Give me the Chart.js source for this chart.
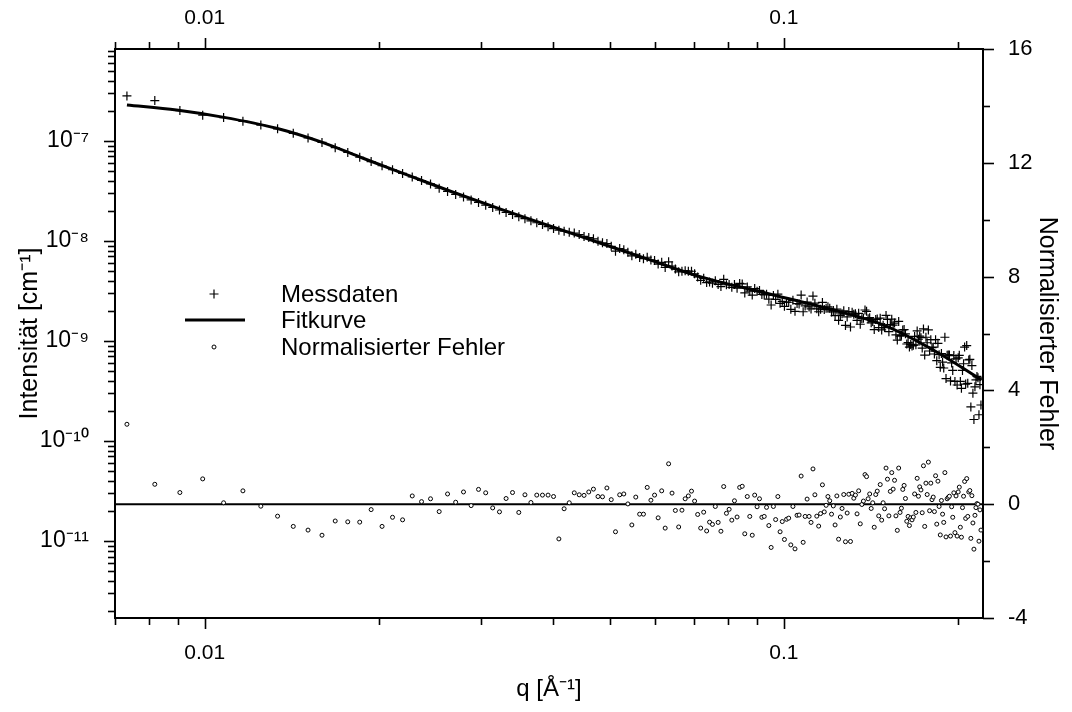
<!DOCTYPE html>
<html>
<head>
<meta charset="utf-8">
<script src="https://cdn.jsdelivr.net/npm/chart.js@4.4.1/dist/chart.umd.min.js"></script>
<style>
  html, body { margin: 0; padding: 0; background: #fff; }
  #wrap { position: relative; width: 1072px; height: 712px; }
</style>
</head>
<body>
<div id="wrap"><canvas id="chart" width="1072" height="712"></canvas></div>
<script>
// ---- data ----
// scattering vector q [1/Angstrom], one value per measured point
const q = [
  0.00734, 0.00820, 0.00906, 0.00992, 0.01078, 0.01164, 0.01250, 0.01336, 0.01422, 0.01508,
  0.01594, 0.01680, 0.01766, 0.01852, 0.01938, 0.02024, 0.02110, 0.02196, 0.02282, 0.02368,
  0.02454, 0.02540, 0.02626, 0.02712, 0.02798, 0.02884, 0.02970, 0.03056, 0.03142, 0.03228,
  0.03314, 0.03400, 0.03486, 0.03572, 0.03658, 0.03744, 0.03830, 0.03916, 0.04002, 0.04088,
  0.04174, 0.04260, 0.04346, 0.04432, 0.04518, 0.04604, 0.04690, 0.04776, 0.04862, 0.04948,
  0.05034, 0.05120, 0.05206, 0.05292, 0.05378, 0.05464, 0.05550, 0.05636, 0.05722, 0.05808,
  0.05894, 0.05980, 0.06066, 0.06152, 0.06238, 0.06324, 0.06410, 0.06496, 0.06582, 0.06668,
  0.06754, 0.06840, 0.06926, 0.07012, 0.07098, 0.07184, 0.07270, 0.07356, 0.07442, 0.07528,
  0.07614, 0.07700, 0.07786, 0.07872, 0.07958, 0.08044, 0.08130, 0.08216, 0.08302, 0.08388,
  0.08474, 0.08560, 0.08646, 0.08732, 0.08818, 0.08904, 0.08990, 0.09076, 0.09162, 0.09248,
  0.09334, 0.09420, 0.09506, 0.09592, 0.09678, 0.09764, 0.09850, 0.09936, 0.10022, 0.10108,
  0.10194, 0.10280, 0.10366, 0.10452, 0.10538, 0.10624, 0.10710, 0.10796, 0.10882, 0.10968,
  0.11054, 0.11140, 0.11226, 0.11312, 0.11398, 0.11484, 0.11570, 0.11656, 0.11742, 0.11828,
  0.11914, 0.12000, 0.12086, 0.12172, 0.12258, 0.12344, 0.12430, 0.12516, 0.12602, 0.12688,
  0.12774, 0.12860, 0.12946, 0.13032, 0.13118, 0.13204, 0.13290, 0.13376, 0.13462, 0.13548,
  0.13634, 0.13720, 0.13806, 0.13892, 0.13978, 0.14064, 0.14150, 0.14236, 0.14322, 0.14408,
  0.14494, 0.14580, 0.14666, 0.14752, 0.14838, 0.14924, 0.15010, 0.15096, 0.15182, 0.15268,
  0.15354, 0.15440, 0.15526, 0.15612, 0.15698, 0.15784, 0.15870, 0.15956, 0.16042, 0.16128,
  0.16214, 0.16300, 0.16386, 0.16472, 0.16558, 0.16644, 0.16730, 0.16816, 0.16902, 0.16988,
  0.17074, 0.17160, 0.17246, 0.17332, 0.17418, 0.17504, 0.17590, 0.17676, 0.17762, 0.17848,
  0.17934, 0.18020, 0.18106, 0.18192, 0.18278, 0.18364, 0.18450, 0.18536, 0.18622, 0.18708,
  0.18794, 0.18880, 0.18966, 0.19052, 0.19138, 0.19224, 0.19310, 0.19396, 0.19482, 0.19568,
  0.19654, 0.19740, 0.19826, 0.19912, 0.19998, 0.20084, 0.20170, 0.20256, 0.20342, 0.20428,
  0.20514, 0.20600, 0.20686, 0.20772, 0.20858, 0.20944, 0.21030, 0.21116, 0.21202, 0.21288,
  0.21374, 0.21460, 0.21546, 0.21632, 0.21718, 0.21804, 0.21890
];

// measured intensity [1/cm]
const intensity = [
  2.82e-7, 2.53e-7, 2.01e-7, 1.81e-7, 1.71e-7, 1.57e-7, 1.44e-7, 1.32e-7, 1.19e-7, 1.07e-7,
  9.66e-8, 8.57e-8, 7.66e-8, 6.87e-8, 6.22e-8, 5.65e-8, 5.15e-8, 4.73e-8, 4.36e-8, 4.02e-8,
  3.72e-8, 3.37e-8, 3.13e-8, 2.92e-8, 2.75e-8, 2.57e-8, 2.43e-8, 2.28e-8, 2.16e-8, 2.04e-8,
  1.93e-8, 1.84e-8, 1.75e-8, 1.67e-8, 1.59e-8, 1.52e-8, 1.46e-8, 1.39e-8, 1.33e-8, 1.28e-8,
  1.25e-8, 1.22e-8, 1.20e-8, 1.16e-8, 1.11e-8, 1.08e-8, 1.05e-8, 9.93e-9, 9.57e-9, 9.42e-9,
  8.83e-9, 7.91e-9, 8.39e-9, 8.15e-9, 7.71e-9, 7.10e-9, 7.36e-9, 6.85e-9, 6.65e-9, 6.87e-9,
  6.46e-9, 6.38e-9, 5.87e-9, 6.11e-9, 5.43e-9, 6.19e-9, 5.62e-9, 5.24e-9, 4.91e-9, 4.98e-9,
  5.04e-9, 4.99e-9, 4.98e-9, 4.70e-9, 4.36e-9, 4.04e-9, 4.23e-9, 3.84e-9, 3.89e-9, 3.78e-9,
  3.99e-9, 3.68e-9, 3.50e-9, 4.13e-9, 3.65e-9, 3.66e-9, 3.44e-9, 3.66e-9, 3.37e-9, 3.76e-9,
  3.72e-9, 3.02e-9, 3.47e-9, 3.15e-9, 2.88e-9, 3.34e-9, 3.14e-9, 3.20e-9, 2.92e-9, 2.89e-9,
  2.94e-9, 2.62e-9, 2.29e-9, 2.85e-9, 2.61e-9, 2.94e-9, 2.38e-9, 2.49e-9, 2.22e-9, 2.45e-9,
  2.44e-9, 2.07e-9, 2.55e-9, 1.98e-9, 2.37e-9, 2.34e-9, 2.88e-9, 1.96e-9, 2.24e-9, 2.45e-9,
  2.19e-9, 2.09e-9, 2.81e-9, 2.39e-9, 2.10e-9, 1.96e-9, 2.08e-9, 2.43e-9, 2.06e-9, 2.12e-9,
  2.20e-9, 2.12e-9, 1.95e-9, 2.02e-9, 1.79e-9, 2.08e-9, 1.61e-9, 1.80e-9, 1.87e-9, 2.00e-9,
  1.43e-9, 1.74e-9, 1.97e-9, 1.38e-9, 1.94e-9, 1.85e-9, 1.87e-9, 1.61e-9, 1.89e-9, 1.47e-9,
  1.67e-9, 1.69e-9, 2.04e-9, 1.98e-9, 1.67e-9, 1.71e-9, 1.52e-9, 1.57e-9, 1.30e-9, 1.64e-9,
  1.66e-9, 1.36e-9, 1.69e-9, 1.29e-9, 1.44e-9, 1.36e-9, 1.80e-9, 1.64e-9, 1.24e-9, 1.46e-9,
  1.65e-9, 1.44e-9, 1.51e-9, 1.15e-9, 1.02e-9, 1.57e-9, 1.12e-9, 1.14e-9, 1.29e-9, 1.30e-9,
  1.18e-9, 9.33e-10, 9.64e-10, 8.69e-10, 9.23e-10, 8.93e-10, 9.04e-10, 1.11e-9, 9.16e-10, 1.26e-9,
  1.04e-9, 1.12e-9, 1.08e-9, 8.49e-10, 1.32e-9, 7.23e-10, 1.09e-9, 9.60e-10, 1.29e-9, 7.94e-10,
  1.03e-9, 8.59e-10, 8.67e-10, 7.41e-10, 1.03e-9, 6.35e-10, 9.48e-10, 7.29e-10, 5.45e-10, 7.50e-10,
  6.15e-10, 5.37e-10, 1.09e-9, 4.21e-10, 7.21e-10, 7.24e-10, 7.26e-10, 3.99e-10, 6.03e-10, 5.08e-10,
  7.14e-10, 3.94e-10, 6.62e-10, 3.63e-10, 6.79e-10, 7.18e-10, 3.94e-10, 3.36e-10, 5.08e-10, 5.92e-10,
  8.69e-10, 3.71e-10, 8.99e-10, 3.77e-10, 6.46e-10, 6.56e-10, 2.19e-10, 5.68e-10, 3.01e-10, 1.64e-10,
  3.48e-10, 4.08e-10, 4.42e-10, 4.29e-10, 1.83e-10, 3.66e-10, 2.29e-10
];

// normalised residual (data - fit) / sigma
const normError = [
  2.81, 0.70, 0.41, 0.89, 0.05, 0.47, -0.07, -0.42, -0.78, -0.91,
  -1.09, -0.59, -0.62, -0.63, -0.19, -0.78, -0.46, -0.55, 0.29, 0.09,
  0.19, -0.26, 0.36, 0.07, 0.43, -0.05, 0.52, 0.40, -0.13, -0.27,
  0.20, 0.41, -0.29, 0.33, 0.06, 0.32, 0.32, 0.32, 0.27, -1.22,
  -0.16, 0.05, 0.40, 0.33, 0.31, 0.43, 0.53, 0.27, 0.26, 0.57,
  0.16, -0.97, 0.33, 0.36, 0.01, -0.73, 0.25, -0.35, -0.35, 0.59,
  0.14, 0.32, -0.48, 0.47, -0.84, 1.42, 0.39, -0.22, -0.80, -0.21,
  0.19, 0.29, 0.46, 0.11, -0.36, -0.84, -0.28, -0.94, -0.63, -0.71,
  -0.08, -0.64, -0.95, 0.62, -0.32, -0.18, -0.56, 0.12, -0.45, 0.59,
  0.63, -1.04, 0.27, -0.43, -1.09, 0.32, -0.09, 0.19, -0.46, -0.43,
  -0.11, -0.75, -1.52, -0.08, -0.54, 0.27, -0.97, -0.61, -1.24, -0.53,
  -0.49, -1.43, -0.08, -1.57, -0.39, -0.38, 0.99, -1.34, -0.43, 0.18,
  -0.43, -0.64, 1.24, 0.33, -0.42, -0.77, -0.33, 0.68, -0.27, -0.04,
  0.27, 0.12, -0.35, -0.06, -0.73, 0.29, -1.23, -0.45, -0.15, 0.34,
  -1.32, -0.31, 0.35, -1.31, 0.38, 0.21, 0.32, -0.34, 0.47, -0.69,
  -0.01, 0.11, 1.04, 0.97, 0.19, 0.36, -0.15, 0.05, -0.81, 0.34,
  0.46, -0.41, 0.69, -0.56, 0.05, -0.16, 1.27, 0.88, -0.41, 0.45,
  1.11, 0.53, 0.84, -0.41, -0.92, 1.27, -0.29, -0.14, 0.52, 0.66,
  0.20, -0.60, -0.43, -0.75, -0.48, -0.55, -0.45, 0.36, -0.29, 0.91,
  0.28, 0.61, 0.50, -0.30, 1.35, -0.78, 0.74, 0.34, 1.48, -0.23,
  0.74, 0.16, 0.25, -0.26, 1.00, -0.70, 0.81, -0.08, -1.08, 0.13,
  -0.35, -0.64, 1.11, -1.15, 0.19, 0.24, 0.28, -1.12, -0.09, -0.46,
  0.40, -1.00, 0.29, -1.12, 0.43, 0.60, -0.81, -1.16, -0.12, 0.28,
  0.80, -0.50, 0.90, -0.43, 0.43, 0.48, -1.20, 0.30, -0.66, -1.58,
  -0.39, -0.12, 0.02, 0.00, -1.30, -0.20, -0.91
];

// fitted model curve
const fitQ = [0.00734, 0.00894, 0.01074, 0.01330, 0.01601, 0.01877, 0.02260, 0.02649, 0.03232,
              0.03944, 0.04811, 0.05870, 0.07161, 0.09335, 0.1217, 0.1484, 0.1811, 0.2195];
const fitI = [2.29e-7, 2.04e-7, 1.73e-7, 1.34e-7, 9.62e-8, 6.71e-8, 4.47e-8, 3.16e-8, 2.09e-8,
              1.41e-8, 9.55e-9, 6.46e-9, 4.40e-9, 3.00e-9, 2.04e-9, 1.45e-9, 8.13e-10, 4.07e-10];

// axis ranges
const qRange = [0.0070, 0.2207];
const intensityRange = [1.7e-12, 8.3e-7];
const errorRange = [-4, 16];
const errorTickStep = 2;
const errorLabelStep = 4;

const seriesLabels = ['Messdaten', 'Fitkurve', 'Normalisierter Fehler'];

// ---- helpers ----
const FONT = "'Liberation Sans', Arial, sans-serif";
const SUP = {'-': '\u207B', '0': '\u2070', '1': '\u00B9', '2': '\u00B2', '3': '\u00B3',
             '4': '\u2074', '5': '\u2075', '6': '\u2076', '7': '\u2077', '8': '\u2078', '9': '\u2079'};
const sup = s => String(s).split('').map(c => SUP[c] || c).join('');

const isDecade = v => Math.abs(Math.log10(v) - Math.round(Math.log10(v))) < 1e-6;

function logTicks(min, max) {
    const out = [];
    for (let e = Math.floor(Math.log10(min)); e <= Math.ceil(Math.log10(max)); e++) {
        for (let m = 1; m <= 9; m++) {
            const v = m * Math.pow(10, e);
            if (v >= min * 0.99999 && v <= max * 1.00001) out.push({ value: v });
        }
    }
    return out;
}

const points = (xs, ys) => xs.map((x, i) => ({ x: x, y: ys[i] }));

// outward tick marks, long on labelled values
const tickMarks = {
    id: 'tickMarks',
    afterDraw(chart) {
        const { ctx, chartArea: a } = chart;
        ctx.save();
        ctx.strokeStyle = '#000';
        ctx.lineWidth = 1.6;
        Object.values(chart.scales).forEach(scale => {
            scale.ticks.forEach(t => {
                const major = scale.type === 'logarithmic'
                    ? isDecade(t.value)
                    : t.value % errorLabelStep === 0;
                const len = major ? 11 : 7;
                const p = Math.round(scale.getPixelForValue(t.value)) + 0.5;
                ctx.beginPath();
                if (scale.position === 'bottom') { ctx.moveTo(p, a.bottom); ctx.lineTo(p, a.bottom + len); }
                if (scale.position === 'top') { ctx.moveTo(p, a.top); ctx.lineTo(p, a.top - len); }
                if (scale.position === 'left') { ctx.moveTo(a.left, p); ctx.lineTo(a.left - len, p); }
                if (scale.position === 'right') { ctx.moveTo(a.right, p); ctx.lineTo(a.right + len, p); }
                ctx.stroke();
            });
        });
        ctx.restore();
    }
};

// legend inside the plot area
const innerLegend = {
    id: 'innerLegend',
    afterDraw(chart) {
        const ctx = chart.ctx;
        const markX = 214, textX = 281, rows = [294, 320, 347];
        ctx.save();
        ctx.fillStyle = '#000';
        ctx.strokeStyle = '#000';
        ctx.font = '24px ' + FONT;
        ctx.textBaseline = 'middle';
        seriesLabels.forEach((label, i) => {
            const y = rows[i];
            ctx.beginPath();
            if (i === 0) {
                ctx.lineWidth = 1.2;
                ctx.moveTo(markX - 4.5, y); ctx.lineTo(markX + 4.5, y);
                ctx.moveTo(markX, y - 4.5); ctx.lineTo(markX, y + 4.5);
                ctx.stroke();
            } else if (i === 1) {
                ctx.lineWidth = 3;
                ctx.moveTo(markX - 29, y); ctx.lineTo(markX + 31, y);
                ctx.stroke();
            } else {
                ctx.lineWidth = 1;
                ctx.arc(markX, y, 2, 0, Math.PI * 2);
                ctx.stroke();
            }
            ctx.fillText(label, textX, y + 1);
        });
        ctx.restore();
    }
};

const axisFont = { family: FONT, size: 25 };
const tickFont = { family: FONT, size: 21 };

new Chart(document.getElementById('chart'), {
    type: 'scatter',
    data: {
        datasets: [
            {
                label: seriesLabels[0],
                data: points(q, intensity),
                yAxisID: 'y',
                pointStyle: 'cross',
                pointRadius: 4.5,
                pointBorderWidth: 1.2,
                borderColor: '#000',
                backgroundColor: '#000'
            },
            {
                label: seriesLabels[1],
                data: points(fitQ, fitI),
                yAxisID: 'y',
                showLine: true,
                pointRadius: 0,
                borderWidth: 3,
                borderColor: '#000',
                cubicInterpolationMode: 'monotone'
            },
            {
                label: seriesLabels[2],
                data: points(q, normError),
                yAxisID: 'y2',
                pointStyle: 'circle',
                pointRadius: 2,
                pointBorderWidth: 1,
                borderColor: '#000',
                backgroundColor: '#fff'
            },
            {
                label: 'zero',
                data: points(qRange, [0, 0]),
                yAxisID: 'y2',
                showLine: true,
                pointRadius: 0,
                borderWidth: 2,
                borderColor: '#000'
            }
        ]
    },
    options: {
        responsive: false,
        animation: false,
        devicePixelRatio: 1,
        events: [],
        layout: { padding: 0 },
        plugins: { legend: { display: false }, tooltip: { enabled: false } },
        scales: {
            x: {
                type: 'logarithmic',
                position: 'bottom',
                min: qRange[0], max: qRange[1],
                afterBuildTicks: s => { s.ticks = logTicks(s.min, s.max); },
                afterFit: s => { s.height = 94; },
                grid: { display: false },
                border: { display: true, color: '#000', width: 2 },
                ticks: {
                    autoSkip: false, maxRotation: 0, padding: 15,
                    color: '#000', font: tickFont,
                    callback: v => isDecade(v) ? String(Number(v.toPrecision(1))) : ''
                },
                title: { display: true, text: 'q [Å\u207B\u00B9]', color: '#000', font: { family: FONT, size: 24 }, padding: { bottom: 8 } }
            },
            x2: {
                type: 'logarithmic',
                position: 'top',
                min: qRange[0], max: qRange[1],
                afterBuildTicks: s => { s.ticks = logTicks(s.min, s.max); },
                afterFit: s => { s.height = 49; },
                grid: { display: false },
                border: { display: true, color: '#000', width: 2 },
                ticks: {
                    autoSkip: false, maxRotation: 0, padding: 10,
                    color: '#000', font: tickFont,
                    callback: v => isDecade(v) ? String(Number(v.toPrecision(1))) : ''
                }
            },
            y: {
                type: 'logarithmic',
                position: 'left',
                min: intensityRange[0], max: intensityRange[1],
                afterBuildTicks: s => { s.ticks = logTicks(s.min, s.max); },
                afterFit: s => { s.width = 115; },
                grid: { display: false },
                border: { display: true, color: '#000', width: 2 },
                ticks: {
                    autoSkip: false, padding: 18,
                    color: '#000', font: { family: FONT, size: 23 },
                    callback: v => isDecade(v) ? '10' + sup(Math.round(Math.log10(v))) : ''
                },
                title: { display: true, text: 'Intensität [cm\u207B\u00B9]', color: '#000', font: axisFont, padding: { top: 15 } }
            },
            y2: {
                type: 'linear',
                position: 'right',
                min: errorRange[0], max: errorRange[1],
                afterFit: s => { s.width = 89; },
                grid: { display: false },
                border: { display: true, color: '#000', width: 2 },
                ticks: {
                    stepSize: errorTickStep, autoSkip: false, padding: 17,
                    color: '#000', font: { family: FONT, size: 22 },
                    callback: v => v % errorLabelStep === 0 ? String(v) : ''
                },
                title: { display: true, text: 'Normalisierter Fehler', color: '#000', font: axisFont, padding: { top: 10 } }
            }
        }
    },
    plugins: [tickMarks, innerLegend]
});
</script>
</body>
</html>
